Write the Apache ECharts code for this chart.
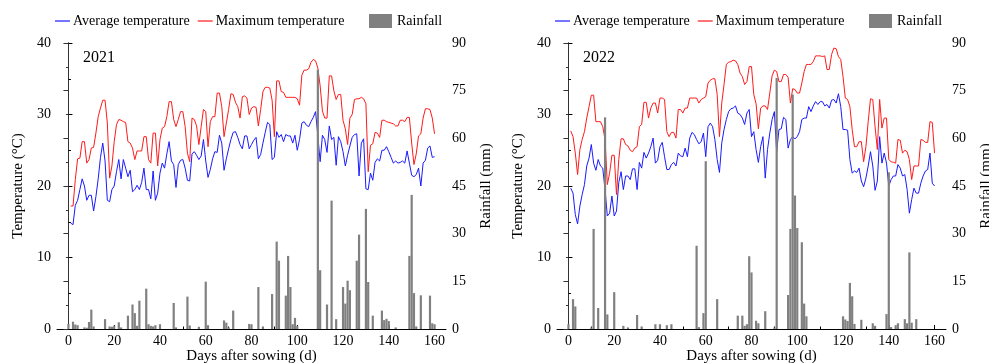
<!DOCTYPE html>
<html>
<head>
<meta charset="utf-8">
<script src="https://cdn.jsdelivr.net/npm/echarts@6/dist/echarts.min.js"></script>
<style>
  html, body { margin: 0; padding: 0; background: #fff; }
  #chart { width: 989px; height: 363px; }
</style>
</head>
<body>
<div id="chart"></div>
<script>
// days after sowing
const days = Array.from({ length: 160 }, (_, i) => i + 1);

// 2021 season
const avg2021 = [
  14.8, 14.6, 17.3, 18, 19.5, 21, 20, 18, 18.7, 18.7,
  16.5, 18.5, 21, 24, 26, 23.5, 18, 17.8, 19.5, 20,
  22, 23.7, 21, 23.7, 22.5, 21.3, 22.2, 19.2, 19.5, 20.1,
  19.5, 20.5, 22.5, 19.5, 19.5, 18.2, 22.1, 18, 19, 21.8,
  23.2, 22.5, 24.5, 26.2, 23.5, 23, 19.8, 23, 23.6, 23.7,
  22.5, 20.8, 20.7, 24.5, 24.8, 24.3, 23.7, 24.2, 26.5, 23.5,
  21.2, 22.3, 23.8, 24.8, 24.7, 27.1, 26, 22.2, 23.8, 25.2,
  26.5, 27.5, 27.6, 26.8, 25.8, 25.2, 27, 27, 25.2, 25.8,
  26.4, 26.8, 23.8, 24.4, 26, 27.5, 28.9, 28.6, 23.7, 24,
  27.6, 26.8, 27.2, 26.2, 27.2, 27, 27, 26, 27.1, 25,
  26.5, 28.8, 29, 28.5, 28.3, 29, 29.6, 30.4, 27, 23.4,
  27.1, 26.5, 24.7, 28.4, 26.5, 26.8, 22.9, 26.9, 26.2, 24.8,
  22.8, 24.3, 25.6, 26.8, 27.2, 27.3, 21.4, 26, 26.6, 19.6,
  19.5, 21.8, 20.8, 23.3, 23.8, 23.5, 25, 25, 25.5, 24.8,
  24, 23.2, 23.5, 23.2, 23.3, 23.5, 23.2, 24.9, 23.2, 21.5,
  21.3, 21.6, 22.5, 20, 23.2, 23.6, 25.3, 25.6, 24, 24.1
];
const max2021 = [
  17.2, 17.2, 20.9, 23.8, 23.9, 26.2, 26.2, 23.2, 23.7, 25.3,
  25.4, 27.4, 29.7, 30.9, 32, 32, 28.8, 21.1, 22.8, 26.2,
  28.6, 29.3, 29.2, 29, 28.9, 26.2, 26, 25.3, 23.7, 24.9,
  24.9, 24.9, 26.9, 26.9, 23.7, 23.2, 27.4, 27.4, 22.8, 26.5,
  28.1, 28.3, 29.7, 31.8, 31.8, 29.3, 28.3, 29.3, 30.4, 30.4,
  28.3, 24.6, 23.4, 29.5, 29.3, 28.4, 25.8, 28.3, 30.7, 30.4,
  25.5, 29, 29.7, 29.7, 33, 33, 31.1, 26.9, 28.8, 30.7,
  32.9, 32.8, 31.7, 31.1, 29.5, 32.5, 32.6, 32.3, 30, 30.9,
  31.1, 31, 28.4, 30.7, 33.2, 33.8, 33.8, 33.7, 32, 26.9,
  34.7, 34.7, 33.2, 33.1, 32.4, 32.4, 32.4, 32.4, 32.4, 32.2,
  31.3, 35.5, 36.2, 36.2, 36.4, 37.3, 37.7, 37.5, 36.5, 34,
  30.5, 29.5, 29.5, 35.4, 35.4, 33.3, 32.1, 32.8, 32.8, 29.2,
  28, 25.8, 29.5, 30, 32.1, 32.2, 32.2, 32.4, 32.2, 31.5,
  22, 25.7, 25.9, 27.5, 27.4, 26.8, 29.2, 29.2, 29, 28.9,
  28.8, 28.7, 28.4, 28.4, 29.2, 29.2, 29, 29.6, 29.6, 26,
  23, 24.5, 27, 27.3, 29.5, 30.8, 30.8, 30.7, 29.5, 27.3
];
const rainDays2021 = [0, 2, 3, 4, 7, 8, 9, 10, 11, 16, 18, 19, 20, 22, 23, 26, 28, 29, 30, 31,
  34, 35, 36, 37, 38, 40, 46, 47, 52, 53, 57, 60, 61, 68, 69, 70, 72, 79, 80, 83,
  85, 89, 91, 92, 95, 96, 97, 98, 99, 100, 109, 110, 113, 115, 117, 120, 121, 122, 123, 126,
  127, 130, 131, 133, 137, 138, 139, 140, 143, 149, 150, 151, 152, 154, 158, 159, 160];
const rainMm2021 = [1.6, 2.3, 1.4, 1.2, 0.5, 0.4, 2.2, 6.1, 0.8, 3.1, 0.8, 0.7, 1.1, 2.1, 0.5, 4.2, 7.7, 5, 1, 8.9,
  12.7, 1.5, 1, 0.8, 1.2, 1.5, 8.2, 0.5, 10.2, 1.1, 0.7, 14.9, 1.2, 2.7, 2, 0.5, 5.8, 1.6, 1.5, 13.2,
  0.8, 11, 27.5, 21.5, 10.5, 23, 13.2, 1.5, 3.5, 1, 81.6, 18.5, 7.7, 40.4, 3.1, 13.2, 8, 15.2, 12.2, 21.5,
  29.7, 37.8, 14.8, 4.2, 5.8, 2.8, 3.2, 2.5, 0.5, 23, 42.2, 11.3, 0.8, 10.6, 10.5, 1.8, 1.5];

// 2022 season
const avg2022 = [
  19.7, 19, 16, 14.7, 17.2, 18.8, 20.2, 22.8, 23.9, 25.8,
  23.2, 22.2, 23.7, 22.8, 22.5, 19.5, 15.8, 16.2, 18.6, 15.8,
  16.5, 20.5, 22, 19.5, 21.4, 21.4, 20.9, 22.4, 22.4, 19.5,
  23.3, 22.5, 24.7, 23.9, 24.6, 25.5, 26.7, 23.2, 23.6, 25.5,
  26.1, 24.1, 22.3, 22.3, 23, 23.3, 22.8, 24.6, 24.2, 24.1,
  25.3, 24.1, 26.7, 27.5, 27.2, 26.5, 25.9, 26.2, 27.4, 24.1,
  28.3, 28.8, 28.3, 26.5, 23.7, 21.9, 26, 27.9, 29.3, 30.4,
  30.8, 30.9, 31.2, 30.2, 30, 29.5, 28.6, 30.2, 30.7, 26.9,
  27.6, 25.1, 23.3, 25.5, 26.9, 21.1, 25.1, 27.4, 29.3, 30.4,
  24.8, 27.9, 28, 29.6, 29.3, 25.3, 26.5, 26.9, 26.6, 26.9,
  27.6, 29.3, 29.5, 29.5, 31.1, 30.4, 31.2, 31.8, 31.4, 31.8,
  31.8, 31.2, 31.4, 30.9, 32, 32.1, 31.6, 32.9, 31.1, 27.9,
  27.9, 27.8, 23.7, 21.8, 22.1, 21.9, 22.5, 20.7, 19.9, 21.1,
  22.8, 24.8, 22.8, 19.4, 20.7, 26.9, 23.2, 24.6, 23.2, 20,
  20.9, 21.4, 21.4, 23, 22.5, 21.4, 21.6, 19.5, 16.2, 18.1,
  19.7, 19, 19, 20.4, 21.4, 22.1, 22.3, 24.6, 20.4, 20
];
const max2022 = [
  27.7, 26.9, 24.6, 21.6, 25.1, 26.5, 27.6, 29.5, 31.1, 32.7,
  32.7, 29, 29, 29, 28.3, 26.5, 20.2, 21.8, 24.3, 24.3,
  18.8, 23.7, 26.6, 26.6, 25.8, 25.6, 25, 24.8, 25.3, 25.5,
  28.3, 28.6, 31.7, 31.7, 29.5, 30.9, 31.6, 31.6, 30.2, 32.3,
  32.3, 32.1, 27.6, 26.9, 27.5, 27.5, 26.7, 30.7, 30.7, 30.2,
  30.9, 30.9, 32.3, 32.3, 32.3, 32.3, 31.6, 32.1, 32.3, 32.5,
  34.4, 34.8, 35, 35, 32.8, 26.9, 31.6, 34.2, 37, 37.3,
  37.4, 37.6, 37.5, 37, 35.8, 35.3, 34.2, 34.6, 36.7, 36.7,
  32.8, 31.5, 28, 30.9, 31.2, 31.2, 30.7, 33, 35.4, 36.2,
  36, 34.6, 34.6, 35.6, 35.6, 35.2, 31.6, 33.6, 33.5, 33,
  33, 34.4, 36, 37, 37, 37, 37.4, 38.2, 38.2, 38.2,
  38.1, 38.2, 36.3, 36.3, 38.4, 39.3, 39.2, 38.1, 37.7, 35.3,
  32.3, 32.1, 31.1, 27.9, 25.5, 25.5, 26.2, 26.2, 23.4, 25.5,
  29, 32.2, 32.1, 28.3, 25.1, 32.1, 28.1, 29.5, 29.5, 23.7,
  23.4, 23.3, 23.2, 26.5, 26.4, 24.6, 25, 24.8, 23.7, 20.9,
  22.8, 22.8, 22.8, 26.5, 26.4, 26.1, 26.1, 29, 28.9, 24.6
];
const rainDays2022 = [0, 2, 3, 10, 11, 13, 16, 17, 20, 24, 26, 30, 32, 38, 40, 43, 45, 56, 57, 59,
  60, 65, 74, 76, 77, 78, 79, 80, 82, 83, 86, 90, 91, 96, 97, 98, 99, 100, 102, 103,
  104, 120, 121, 122, 123, 124, 125, 128, 133, 134, 139, 140, 141, 143, 144, 147, 148, 149, 150, 152];
const rainMm2022 = [1.5, 9.4, 7.1, 0.5, 31.5, 6.6, 66.6, 4.6, 11.6, 1, 0.5, 4.4, 0.8, 1.5, 1.5, 1.2, 1.5, 26.2, 0.6, 5,
  52.8, 9.4, 4.2, 4.2, 1, 1.5, 22.9, 17.8, 2.6, 1.8, 5.6, 0.5, 79, 10.7, 31.5, 73.8, 42, 31.8, 27.3, 8,
  4, 4, 3, 2.5, 14.5, 10.3, 1.6, 2.9, 1.8, 1, 4.7, 49.3, 0.6, 1.2, 1.8, 3.1, 1.8, 24.1, 2, 3.1];

// axis ticks
const dayTicks = [0, 20, 40, 60, 80, 100, 120, 140, 160];
const dayMinorTicks = [10, 30, 50, 70, 90, 110, 130, 150];

const FONT = "'Liberation Serif', 'Times New Roman', serif";
const BLUE = '#1a1aff';
const RED = '#ff1a1a';
const GREY = '#808080';

const panels = [
  { year: '2021', left: 57, avg: avg2021, max: max2021, rainDays: rainDays2021, rainMm: rainMm2021 },
  { year: '2022', left: 557, avg: avg2022, max: max2022, rainDays: rainDays2022, rainMm: rainMm2022 }
];

const axisLine = { show: true, lineStyle: { color: '#000', width: 1 } };
const labelStyle = { color: '#000', fontFamily: FONT, fontSize: 14 };
const nameStyle = { color: '#000', fontFamily: FONT, fontSize: 15 };

const option = {
  animation: false,
  backgroundColor: '#fff',
  title: [],
  legend: [],
  grid: [],
  xAxis: [],
  yAxis: [],
  series: []
};

panels.forEach((p, i) => {
  // fixed plot box, no auto shrinking for labels/names
  option.grid.push({ left: p.left, top: 43, width: 389, height: 286, outerBoundsMode: 'none', containLabel: false });

  option.title.push({
    text: p.year, left: p.left + 26, top: 50, padding: 0,
    textStyle: { fontFamily: FONT, fontSize: 16, fontWeight: 'normal', color: '#000' }
  });

  // line legend: flat 15px strokes
  option.legend.push({
    left: p.left - 2, top: 14, padding: 0, itemGap: 8,
    itemWidth: 15, itemHeight: 1.2, icon: 'rect',
    textStyle: { fontFamily: FONT, fontSize: 14, color: '#000', padding: [0, 0, 0, -2] },
    data: ['Average temperature', 'Maximum temperature']
  });
  option.legend.push({
    left: p.left + 312, top: 14, padding: 0,
    itemWidth: 23, itemHeight: 14, icon: 'rect',
    textStyle: { fontFamily: FONT, fontSize: 14, color: '#000' },
    data: ['Rainfall']
  });

  // main x axis
  option.xAxis.push({
    type: 'value', gridIndex: i, position: 'bottom', min: -5, max: 165,
    name: 'Days after sowing (d)', nameLocation: 'middle', nameGap: 20, nameMoveOverlap: false,
    nameTextStyle: nameStyle,
    axisLine: axisLine,
    axisTick: { show: true, inside: true, length: 4, customValues: dayTicks, lineStyle: { color: '#000' } },
    axisLabel: Object.assign({ margin: 5, customValues: dayTicks }, labelStyle),
    splitLine: { show: false }
  });
  // minor tick helper axis
  option.xAxis.push({
    type: 'value', gridIndex: i, position: 'bottom', min: -5, max: 165,
    axisLine: { show: false },
    axisTick: { show: true, inside: true, length: 2.5, customValues: dayMinorTicks, lineStyle: { color: '#000' } },
    axisLabel: { show: false },
    splitLine: { show: false }
  });

  option.yAxis.push({
    type: 'value', gridIndex: i, position: 'left', min: 0, max: 40, interval: 10,
    name: 'Temperature (°C)', nameLocation: 'middle', nameRotate: 90, nameGap: 31, nameMoveOverlap: false,
    nameTextStyle: nameStyle,
    axisLine: axisLine,
    axisTick: { show: true, inside: true, length: 4, lineStyle: { color: '#000' } },
    minorTick: { show: true, splitNumber: 2, length: 2.5, lineStyle: { color: '#000' } },
    axisLabel: Object.assign({ margin: 6 }, labelStyle),
    splitLine: { show: false }
  });
  option.yAxis.push({
    type: 'value', gridIndex: i, position: 'right', min: 0, max: 90, interval: 15,
    name: 'Rainfall (mm)', nameLocation: 'middle', nameRotate: 90, nameGap: 33, nameMoveOverlap: false,
    nameTextStyle: nameStyle,
    axisLine: { show: true, lineStyle: { color: '#333', width: 1 } },
    axisTick: { show: true, inside: true, length: 5, lineStyle: { color: '#333' } },
    minorTick: { show: true, splitNumber: 2, length: 2.5, lineStyle: { color: '#333' } },
    axisLabel: Object.assign({ margin: 6 }, labelStyle),
    splitLine: { show: false }
  });

  const xi = i * 2;
  option.series.push({
    name: 'Average temperature', type: 'line', xAxisIndex: xi, yAxisIndex: i * 2,
    data: days.map((d, k) => [d, p.avg[k]]),
    symbol: 'none', lineStyle: { color: BLUE, width: 1 }, itemStyle: { color: BLUE }, z: 2
  });
  option.series.push({
    name: 'Maximum temperature', type: 'line', xAxisIndex: xi, yAxisIndex: i * 2,
    data: days.map((d, k) => [d, p.max[k]]),
    symbol: 'none', lineStyle: { color: RED, width: 1 }, itemStyle: { color: RED }, z: 2
  });
  option.series.push({
    name: 'Rainfall', type: 'bar', xAxisIndex: xi, yAxisIndex: i * 2 + 1,
    data: p.rainDays.map((d, k) => [d, p.rainMm[k]]),
    barWidth: 2.2, itemStyle: { color: GREY }, z: 3
  });
});

const chart = echarts.init(document.getElementById('chart'), null, { renderer: 'canvas' });
chart.setOption(option);
</script>
</body>
</html>
